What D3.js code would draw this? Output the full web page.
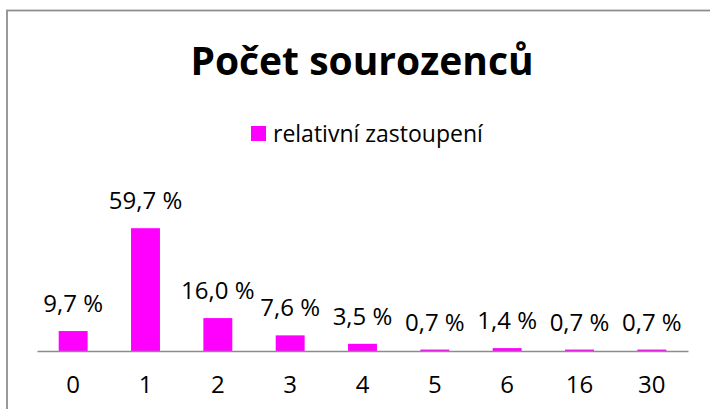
<!DOCTYPE html>
<html>
<head>
<meta charset="utf-8">
<script src="https://cdn.jsdelivr.net/npm/d3@7"></script>
<style>
  body { margin: 0; background: #fff; }
  text { font-family: "Open Sans", Lato, sans-serif; fill: #000; }
</style>
</head>
<body>
<div id="chart"></div>
<script>
// data
var categories = ["0", "1", "2", "3", "4", "5", "6", "16", "30"];
var values = [9.7, 59.7, 16.0, 7.6, 3.5, 0.7, 1.4, 0.7, 0.7];
var labels = ["9,7 %", "59,7 %", "16,0 %", "7,6 %", "3,5 %", "0,7 %", "1,4 %", "0,7 %", "0,7 %"];
var seriesName = "relativní zastoupení";
var title = "Počet sourozenců";

var svgWidth = 710;
var svgHeight = 409;
var axisY = 351;

var svg = d3.select("#chart")
  .append("svg")
  .attr("width", svgWidth)
  .attr("height", svgHeight);

// chart frame (runs off the right and bottom edges)
svg.append("rect")
  .attr("x", 7)
  .attr("y", 10.5)
  .attr("width", 720)
  .attr("height", 420)
  .attr("fill", "none")
  .attr("stroke", "#8c8c8c")
  .attr("stroke-width", 1.75);

// scales
var xScale = d3.scaleBand()
  .domain(categories)
  .range([37, 688])
  .paddingInner(0.6)
  .paddingOuter(0.3);

var yScale = d3.scaleLinear()
  .domain([0, 70])
  .range([axisY, axisY - 144]);

var data = categories.map(function(c, i) {
  return {cat: c, value: values[i], label: labels[i]};
});

// bars
svg.selectAll("rect.bar")
  .data(data)
  .enter()
  .append("rect")
  .attr("class", "bar")
  .attr("x", d => xScale(d.cat))
  .attr("y", d => yScale(d.value))
  .attr("width", xScale.bandwidth())
  .attr("height", d => axisY - yScale(d.value))
  .attr("fill", "#ff00ff");

// x axis
var bottomAxis = d3.axisBottom(xScale).tickSize(0).tickPadding(0);
var axisG = svg.append("g")
  .attr("transform", `translate(0, ${axisY})`)
  .call(bottomAxis);
axisG.select(".domain")
  .attr("stroke", "#8c8c8c")
  .attr("stroke-width", 1.5);
axisG.selectAll(".tick text")
  .attr("dy", null)
  .attr("y", 42)
  .style("font-size", "24px")
  .style("font-family", "'Open Sans', Lato, sans-serif")
  .attr("fill", "#000");

// data labels
svg.selectAll("text.val")
  .data(data)
  .enter()
  .append("text")
  .attr("class", "val")
  .attr("x", d => xScale(d.cat) + xScale.bandwidth() / 2)
  .attr("y", d => yScale(d.value) - 19)
  .attr("text-anchor", "middle")
  .style("font-size", "24px")
  .text(d => d.label);

// title
svg.append("text")
  .attr("x", 362)
  .attr("y", 75)
  .attr("text-anchor", "middle")
  .style("font-size", "39px")
  .style("font-weight", "bold")
  .text(title);

// legend
svg.append("rect")
  .attr("x", 251)
  .attr("y", 126)
  .attr("width", 15)
  .attr("height", 15)
  .attr("fill", "#ff00ff");

svg.append("text")
  .attr("x", 273)
  .attr("y", 142)
  .style("font-size", "23px")
  .text(seriesName);
</script>
</body>
</html>
